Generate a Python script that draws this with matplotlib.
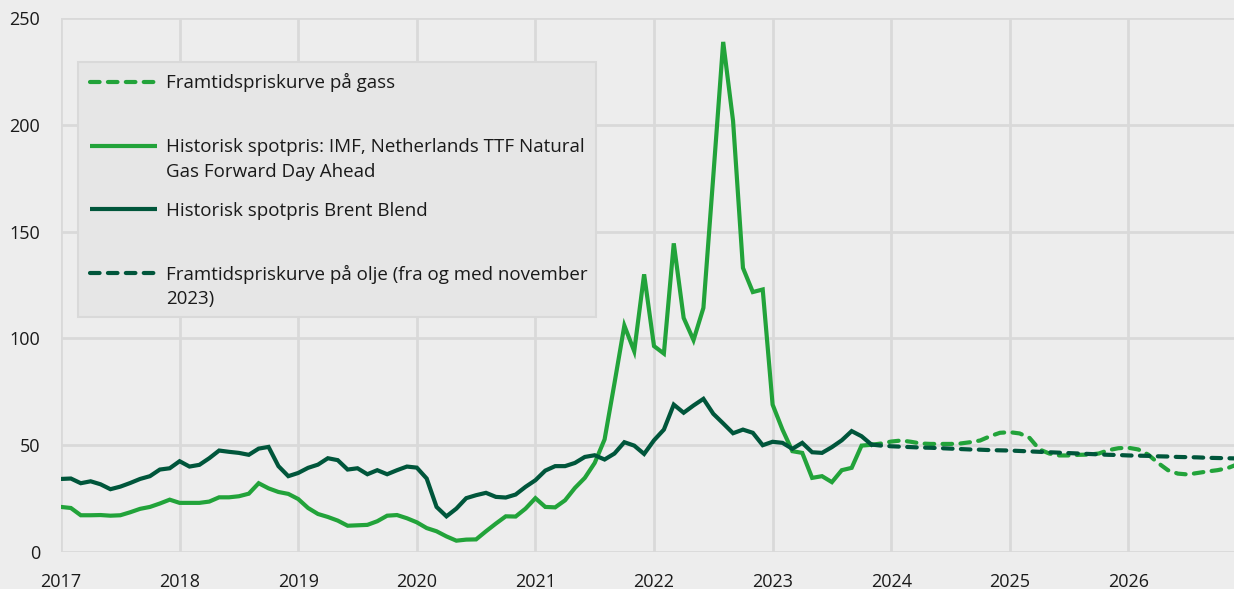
import matplotlib
matplotlib.use('Agg')
import matplotlib.pyplot as plt
from matplotlib.lines import Line2D
from matplotlib.patches import Rectangle
import numpy as np

plt.rcParams['font.family'] = ['Open Sans', 'DejaVu Sans']

# månedlige verdier, jan 2017 - nov 2023
gass_historisk = [
    21.1, 20.6, 17.2, 17.2, 17.3, 17.0, 17.2, 18.6, 20.2, 21.1, 22.7, 24.5,
    23.0, 23.0, 23.0, 23.6, 25.6, 25.6, 26.1, 27.3, 32.2, 29.8, 28.1, 27.2,
    24.8, 20.6, 17.8, 16.4, 14.7, 12.3, 12.5, 12.7, 14.4, 17.0, 17.3, 15.8,
    13.9, 11.2, 9.7, 7.3, 5.3, 5.8, 5.9, 9.7, 13.3, 16.7, 16.6, 20.3,
    25.2, 21.1, 20.9, 24.2, 30.0, 34.7, 41.7, 52.7, 79.0, 106.0, 94.0, 130.0,
    96.4, 92.9, 144.5, 109.6, 99.2, 114.3, 176.0, 238.8, 201.8, 133.0, 121.7, 122.9,
    69.0, 57.3, 47.2, 46.4, 34.7, 35.5, 32.7, 38.3, 39.4, 49.8, 50.2,
]
brent_historisk = [
    34.2, 34.4, 32.2, 33.1, 31.7, 29.4, 30.6, 32.3, 34.2, 35.5, 38.6, 39.2,
    42.5, 40.0, 40.8, 43.9, 47.5, 46.9, 46.4, 45.5, 48.4, 49.2, 40.2, 35.5,
    37.0, 39.4, 40.9, 43.9, 43.0, 38.6, 39.2, 36.4, 38.3, 36.4, 38.3, 40.0,
    39.5, 34.4, 21.1, 16.7, 20.3, 25.2, 26.6, 27.7, 25.8, 25.5, 26.9, 30.5,
    33.6, 38.1, 40.2, 40.2, 41.7, 44.5, 45.3, 43.3, 46.1, 51.4, 49.8, 45.9,
    52.3, 57.3, 69.0, 65.2, 68.6, 71.7, 64.7, 60.2, 55.6, 57.3, 55.8, 50.0,
    51.6, 51.1, 48.3, 51.1, 46.7, 46.4, 49.1, 52.3, 56.6, 54.2, 50.3,
]
# framtidskurver, nov 2023 - des 2026
gass_framtid = [
    50.2, 50.8,
    51.7, 52.2, 51.6, 50.8, 50.6, 50.6, 50.6, 50.8, 51.4, 52.2, 54.2, 55.8,
    56.1, 55.5, 53.4, 48.0, 46.1, 45.2, 45.2, 45.5, 45.6, 46.1, 47.7, 48.6,
    48.8, 48.0, 45.6, 41.7, 38.3, 36.7, 36.3, 37.0, 37.7, 38.3, 39.2, 41.0,
]
olje_framtid = [
    50.3, 49.8,
    49.5, 49.3, 49.1, 48.9, 48.8, 48.6, 48.4, 48.2, 48.0, 47.9, 47.7, 47.6,
    47.5, 47.3, 47.1, 46.9, 46.7, 46.5, 46.3, 46.1, 45.9, 45.7, 45.5, 45.4,
    45.2, 45.1, 45.0, 44.8, 44.7, 44.5, 44.4, 44.3, 44.1, 44.0, 43.9, 43.8,
]
aar = [2017, 2018, 2019, 2020, 2021, 2022, 2023, 2024, 2025, 2026]
legend_tekst = [
    ['Framtidspriskurve på gass'],
    ['Historisk spotpris: IMF, Netherlands TTF Natural', 'Gas Forward Day Ahead'],
    ['Historisk spotpris Brent Blend'],
    ['Framtidspriskurve på olje (fra og med november', '2023)'],
]

start_framtid = 82  # nov 2023
x_hist = 2017 + np.arange(len(gass_historisk)) / 12
x_fram = 2017 + (start_framtid + np.arange(len(gass_framtid))) / 12

lysgronn = '#22a33a'
morkgronn = '#00563b'
bakgrunn = '#ededed'
rutenett = '#d9d9d9'
strek = (0, (2.3, 2.0))

W, H = 1234, 589
fig = plt.figure(figsize=(W / 100, H / 100), dpi=100, facecolor=bakgrunn)
ax = fig.add_axes([61 / W, 1 - 552 / H, 1 - 61 / W, (552 - 18) / H])
ax.set_facecolor(bakgrunn)

ax.plot(x_fram, gass_framtid, color=lysgronn, lw=3, ls=strek,
        dash_capstyle='round', zorder=3)
ax.plot(x_hist, gass_historisk, color=lysgronn, lw=3, zorder=4,
        solid_joinstyle='miter')
ax.plot(x_hist, brent_historisk, color=morkgronn, lw=3, zorder=5,
        solid_joinstyle='miter')
ax.plot(x_fram, olje_framtid, color=morkgronn, lw=3, ls=strek,
        dash_capstyle='round', zorder=6)

ax.set_xlim(2017, 2017 + (W - 61) / 118.6)
ax.set_ylim(0, 250)
ax.set_xticks(aar)
ax.set_xticklabels([str(a) for a in aar])
ax.set_yticks([0, 50, 100, 150, 200, 250])
ax.grid(True, color=rutenett, lw=2)
ax.set_axisbelow(True)
for s in ax.spines.values():
    s.set_visible(False)
ax.tick_params(length=0, pad=15, labelsize=13, labelcolor='#1a1a1a')


# egen legendeboks
def fx(px):
    return px / W


def fy(py):
    return 1 - py / H


fig.add_artist(Rectangle((fx(78), fy(317)), fx(596) - fx(78), fy(62) - fy(317),
                         transform=fig.transFigure, facecolor='#e6e6e6',
                         edgecolor='#d9d9d9', lw=1.5, zorder=10))
handle_y = [82, 146, 209, 273]
handle_stil = [(lysgronn, strek), (lysgronn, '-'), (morkgronn, '-'), (morkgronn, strek)]
for hy, (farge, ls), linjer in zip(handle_y, handle_stil, legend_tekst):
    fig.add_artist(Line2D([fx(90), fx(157)], [fy(hy), fy(hy)], color=farge, lw=3,
                          ls=ls, dash_capstyle='round', solid_capstyle='butt',
                          transform=fig.transFigure, zorder=11))
    for i, linje in enumerate(linjer):
        fig.text(fx(166), fy(hy + 6.5 + i * 24.4), linje, fontsize=13.5,
                 color='#1a1a1a', va='baseline', ha='left', zorder=11)

fig.savefig('out.png', dpi=100, facecolor=bakgrunn)
